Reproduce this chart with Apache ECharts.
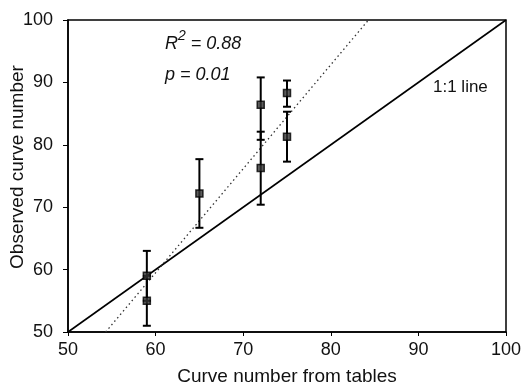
<!DOCTYPE html>
<html>
<head>
<meta charset="utf-8">
<script src="https://cdn.jsdelivr.net/npm/echarts@6/dist/echarts.min.js"></script>
<style>
  html, body { margin: 0; padding: 0; background: #fff; }
  #chart { width: 529px; height: 388px; }
</style>
</head>
<body>
<div id="chart"></div>
<script>
// Curve numbers: tabulated (x) vs observed (y), with observed ranges
const tableCN    = [59, 59, 65, 72, 72, 75, 75];
const observedCN = [59, 55, 72.2, 86.4, 76.3, 88.3, 81.3];
const observedLo = [55, 51, 66.7, 80.8, 70.4, 86.1, 77.3];
const observedHi = [63, 59, 77.7, 90.8, 82.1, 90.3, 85.3];

// Reference lines
const oneToOne = [[50, 50], [100, 100]];
const fitLine  = [[54.3, 50], [84.3, 100]];

const xTicks = [50, 60, 70, 80, 90, 100];
const yTicks = [50, 60, 70, 80, 90, 100];

const FONT = '"Liberation Sans", Arial, sans-serif';

const points = tableCN.map((x, i) => [x, observedCN[i]]);
const bars = tableCN.map((x, i) => [x, observedLo[i], observedHi[i]]);

const chart = echarts.init(document.getElementById('chart'));
chart.setOption({
  animation: false,
  backgroundColor: '#fff',
  grid: {
    left: 68, right: 23, top: 20, bottom: 56,
    outerBoundsMode: 'none',
    containLabel: false,
    show: true, borderColor: '#000', borderWidth: 1.5
  },
  xAxis: {
    type: 'value',
    min: xTicks[0], max: xTicks[xTicks.length - 1], interval: 10,
    name: 'Curve number from tables',
    nameLocation: 'middle', nameGap: 35,
    nameMoveOverlap: false,
    nameTextStyle: { fontFamily: FONT, fontSize: 19, color: '#111' },
    axisLine: { lineStyle: { color: '#000', width: 1.5 } },
    axisTick: { show: true, inside: false, length: 4, lineStyle: { color: '#000' } },
    axisLabel: { fontFamily: FONT, fontSize: 18, color: '#111', margin: 9 },
    splitLine: { show: false }
  },
  yAxis: {
    type: 'value',
    min: yTicks[0], max: yTicks[yTicks.length - 1], interval: 10,
    name: 'Observed curve number',
    nameLocation: 'middle', nameGap: 41,
    nameMoveOverlap: false,
    nameTextStyle: { fontFamily: FONT, fontSize: 19, color: '#111', padding: [0, 0, 0, 18] },
    axisLine: { lineStyle: { color: '#000', width: 1.5 } },
    axisTick: { show: true, inside: false, length: 5, lineStyle: { color: '#000' } },
    axisLabel: { fontFamily: FONT, fontSize: 18, color: '#111', margin: 15 },
    splitLine: { show: false }
  },
  series: [
    {
      type: 'line',
      data: oneToOne,
      symbol: 'none',
      lineStyle: { color: '#000', width: 1.6 },
      clip: true,
      z: 2
    },
    {
      type: 'line',
      data: fitLine,
      symbol: 'none',
      lineStyle: { color: '#333', width: 1.3, type: [1.5, 3] },
      clip: true,
      z: 2
    },
    {
      type: 'custom',
      data: bars,
      z: 3,
      renderItem: function (params, api) {
        const x = api.value(0);
        const lo = api.coord([x, api.value(1)]);
        const hi = api.coord([x, api.value(2)]);
        const cap = 4;
        const style = { stroke: '#000', lineWidth: 2 };
        return {
          type: 'group',
          children: [
            { type: 'line', shape: { x1: lo[0], y1: lo[1], x2: hi[0], y2: hi[1] }, style: style },
            { type: 'line', shape: { x1: lo[0] - cap, y1: lo[1], x2: lo[0] + cap, y2: lo[1] }, style: style },
            { type: 'line', shape: { x1: hi[0] - cap, y1: hi[1], x2: hi[0] + cap, y2: hi[1] }, style: style }
          ]
        };
      }
    },
    {
      type: 'scatter',
      data: points,
      symbol: 'rect',
      symbolSize: 7,
      itemStyle: { color: '#333', borderColor: '#000', borderWidth: 1.5 },
      z: 4
    }
  ],
  graphic: [
    {
      type: 'text', left: 165, top: 29,
      style: {
        text: '{i|R}{s|2}{i| = 0.88}',
        rich: {
          i: { fontFamily: FONT, fontSize: 18, fontStyle: 'italic', fill: '#111', verticalAlign: 'bottom' },
          s: { fontFamily: FONT, fontSize: 14, fontStyle: 'italic', fill: '#111', verticalAlign: 'top', padding: [0, 0, 10, 0] }
        }
      }
    },
    {
      type: 'text', left: 165, top: 66,
      style: { text: 'p = 0.01', fontFamily: FONT, fontSize: 18, fontStyle: 'italic', fill: '#111' }
    },
    {
      type: 'text', left: 433, top: 79,
      style: { text: '1:1 line', fontFamily: FONT, fontSize: 17, fill: '#111' }
    }
  ]
});
</script>
</body>
</html>
